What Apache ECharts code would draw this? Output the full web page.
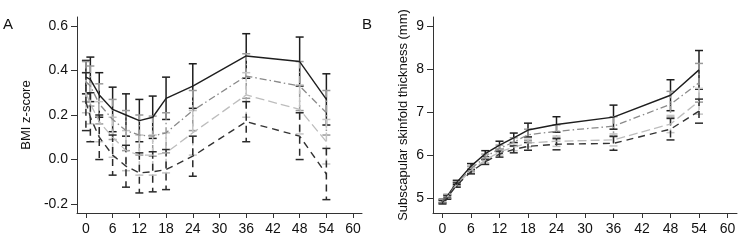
<!DOCTYPE html>
<html lang="en">
  <head>
    <meta charset="UTF-8" />
    <title>BMI z-score and subscapular skinfold</title>
    <script src="https://cdn.jsdelivr.net/npm/echarts@6/dist/echarts.min.js"></script>
    <style>
      html, body { margin: 0; padding: 0; background: #fff; }
      #main { width: 740px; height: 241px; }
    </style>
  </head>
  <body>
    <div id="main"></div>
    <script>
      // months of follow-up
      var months = [0, 1, 3, 6, 9, 12, 15, 18, 24, 36, 48, 54];
      var xTicks = [0, 6, 12, 18, 24, 30, 36, 42, 48, 54, 60];
      var bmiTicks = [-0.2, 0, 0.2, 0.4, 0.6];
      var skinTicks = [5, 6, 7, 8, 9];

      // panel A: BMI z-score (mean and half-width of CI)
      var bmiSolid = [0.37, 0.36, 0.29, 0.225, 0.2, 0.175, 0.19, 0.275, 0.33, 0.465, 0.44, 0.27];
      var bmiSolidErr = [0.075, 0.1, 0.1, 0.1, 0.095, 0.095, 0.095, 0.095, 0.1, 0.1, 0.11, 0.115];
      var bmiDashDot = [0.35, 0.33, 0.25, 0.18, 0.13, 0.11, 0.105, 0.12, 0.22, 0.375, 0.33, 0.21];
      var bmiDashDotErr = [0.09, 0.09, 0.09, 0.09, 0.09, 0.09, 0.09, 0.09, 0.09, 0.1, 0.11, 0.1];
      var bmiLongDash = [0.3, 0.25, 0.17, 0.1, 0.04, 0.02, 0.02, 0.03, 0.12, 0.29, 0.225, 0.08];
      var bmiLongDashErr = [0.09, 0.09, 0.09, 0.09, 0.09, 0.09, 0.09, 0.09, 0.1, 0.1, 0.11, 0.1];
      var bmiDashed = [0.26, 0.19, 0.1, 0.02, -0.03, -0.06, -0.055, -0.045, 0.015, 0.17, 0.105, -0.065];
      var bmiDashedErr = [0.13, 0.11, 0.1, 0.09, 0.094, 0.09, 0.09, 0.09, 0.09, 0.09, 0.105, 0.115];

      // panel B: subscapular skinfold thickness (mm)
      var skinSolid = [4.93, 5.04, 5.36, 5.74, 6.03, 6.23, 6.4, 6.58, 6.71, 6.88, 7.39, 7.98];
      var skinSolidErr = [0.04, 0.04, 0.05, 0.06, 0.07, 0.09, 0.11, 0.16, 0.18, 0.28, 0.36, 0.45];
      var skinDashDot = [4.92, 5.03, 5.33, 5.68, 5.95, 6.15, 6.3, 6.47, 6.55, 6.67, 7.18, 7.68];
      var skinDashDotErr = [0.04, 0.04, 0.05, 0.06, 0.07, 0.08, 0.1, 0.13, 0.15, 0.22, 0.3, 0.45];
      var skinLongDash = [4.91, 5.02, 5.31, 5.64, 5.88, 6.07, 6.18, 6.28, 6.32, 6.35, 6.72, 7.25];
      var skinLongDashErr = [0.04, 0.04, 0.05, 0.05, 0.06, 0.07, 0.08, 0.09, 0.12, 0.14, 0.2, 0.3];
      var skinDashed = [4.9, 5.01, 5.3, 5.61, 5.84, 6.02, 6.13, 6.2, 6.25, 6.27, 6.6, 7.02];
      var skinDashedErr = [0.04, 0.04, 0.05, 0.05, 0.06, 0.07, 0.08, 0.09, 0.13, 0.16, 0.25, 0.28];

      var styles = [
        { color: "#1e1e1e", barColor: "#1e1e1e", dash: "solid", width: 1.4 },
        { color: "#8a8a8a", barColor: "#9a9a9a", dash: [7, 3, 1.5, 3], width: 1.3 },
        { color: "#bdbdbd", barColor: "#c4c4c4", dash: [9, 4], width: 1.3 },
        { color: "#333333", barColor: "#2a2a2a", dash: [7, 5], width: 1.4 }
      ];

      var font = "Liberation Sans, Arial, sans-serif";
      var chart = echarts.init(document.getElementById("main"));

      function pairs(vals) {
        return months.map(function (m, i) { return [m, vals[i]]; });
      }

      function errData(vals, err) {
        return months.map(function (m, i) {
          return [m, vals[i] - err[i], vals[i] + err[i]];
        });
      }

      function errSeries(idx, vals, err, st) {
        return {
          type: "custom",
          xAxisIndex: idx,
          yAxisIndex: idx,
          silent: true,
          z: 1,
          data: errData(vals, err),
          encode: { x: 0, y: [1, 2] },
          renderItem: function (params, api) {
            var top = api.coord([api.value(0), api.value(2)]);
            var bot = api.coord([api.value(0), api.value(1)]);
            var w = 4;
            var s = {
              stroke: st.barColor,
              lineWidth: 1.5,
              lineDash: st.dash === "solid" ? null : st.dash
            };
            var capStyle = { stroke: st.barColor, lineWidth: 1.5 };
            return {
              type: "group",
              children: [
                { type: "line", shape: { x1: top[0], y1: top[1], x2: bot[0], y2: bot[1] }, style: s },
                { type: "line", shape: { x1: top[0] - w, y1: top[1], x2: top[0] + w, y2: top[1] }, style: capStyle },
                { type: "line", shape: { x1: bot[0] - w, y1: bot[1], x2: bot[0] + w, y2: bot[1] }, style: capStyle }
              ]
            };
          }
        };
      }

      function lineSeries(idx, vals, st) {
        return {
          type: "line",
          xAxisIndex: idx,
          yAxisIndex: idx,
          data: pairs(vals),
          showSymbol: false,
          symbol: "none",
          smooth: false,
          silent: true,
          z: 3,
          lineStyle: { color: st.color, width: st.width, type: st.dash }
        };
      }

      function xAxis(idx) {
        return {
          type: "value",
          gridIndex: idx,
          min: -2,
          max: 62,
          splitLine: { show: false },
          axisLine: { onZero: false, lineStyle: { color: "#333", width: 1 } },
          axisTick: { customValues: xTicks, length: 5, lineStyle: { color: "#333" } },
          axisLabel: {
            customValues: xTicks,
            margin: 9,
            color: "#111",
            fontSize: 14,
            fontFamily: font
          }
        };
      }

      function yAxis(idx, min, max, ticks, name, gap, digits) {
        return {
          type: "value",
          gridIndex: idx,
          min: min,
          max: max,
          name: name,
          nameLocation: "middle",
          nameGap: gap,
          nameTextStyle: { color: "#111", fontSize: 13, fontFamily: font },
          splitLine: { show: false },
          axisLine: { show: true, onZero: false, lineStyle: { color: "#333", width: 1 } },
          axisTick: { show: true, customValues: ticks, length: 6, lineStyle: { color: "#333" } },
          axisLabel: {
            customValues: ticks,
            margin: 9,
            color: "#111",
            fontSize: 14,
            fontFamily: font,
            formatter: function (v) { return v.toFixed(digits); }
          }
        };
      }

      var bmiSets = [
        [bmiSolid, bmiSolidErr],
        [bmiDashDot, bmiDashDotErr],
        [bmiLongDash, bmiLongDashErr],
        [bmiDashed, bmiDashedErr]
      ];
      var skinSets = [
        [skinSolid, skinSolidErr],
        [skinDashDot, skinDashDotErr],
        [skinLongDash, skinLongDashErr],
        [skinDashed, skinDashedErr]
      ];

      var series = [];
      [bmiSets, skinSets].forEach(function (sets, idx) {
        sets.forEach(function (d, k) {
          series.push(errSeries(idx, d[0], d[1], styles[k]));
        });
        sets.forEach(function (d, k) {
          series.push(lineSeries(idx, d[0], styles[k]));
        });
      });

      var option = {
        animation: false,
        backgroundColor: "#fff",
        grid: [
          { left: 77, right: 378, top: 17, bottom: 28 },
          { left: 433, right: 3, top: 17, bottom: 28 }
        ],
        xAxis: [xAxis(0), xAxis(1)],
        yAxis: [
          yAxis(0, -0.24, 0.64, bmiTicks, "BMI z-score", 44, 1),
          yAxis(1, 4.65, 9.21, skinTicks, "Subscapular skinfold thickness (mm)", 23, 0)
        ],
        graphic: [
          { type: "text", left: 3, top: 17, style: { text: "A", fontSize: 15, fontFamily: font, fill: "#111" } },
          { type: "text", left: 362, top: 17, style: { text: "B", fontSize: 15, fontFamily: font, fill: "#111" } }
        ],
        series: series
      };

      chart.setOption(option);
    </script>
  </body>
</html>
